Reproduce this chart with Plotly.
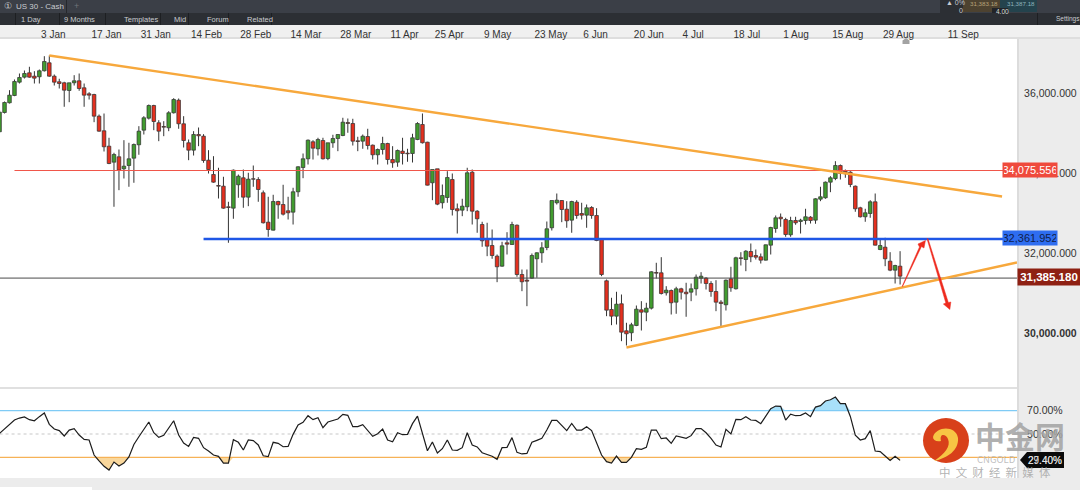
# US 30 daily candles with trend lines and RSI pane
import plotly.graph_objects as go

W, H = 1080, 490
FONT = "Liberation Sans"

# candle colour per bar, g = up, r = down
bar_colour = (
    "ggggggrrgg" "rrrrggrrrr" "rrrgrggggg" "grrrggrrrg" "rrrrrrrggr"
    "grrrrgrrrg" "gggrgrgggg" "rrrgrrggrr" "grrggrrgrg" "grrggrrrrr"
    "rgrgrrrggg" "gggrrgrrgr" "rrrrgrrggr" "ggrrgrgrrg" "ggrrrrgrgr"
    "grrrgggrrg" "rggrgggggr" "rrrrggrgrr" "gr"
)

highs = [
    35575, 35800, 36083, 36350, 36500, 36575, 36668, 36558, 36600, 36933,
    36950, 36475, 36368, 36293, 36268, 36458, 36500, 36250, 36033, 35993,
    35475, 35500, 34893, 34518, 34600, 34833, 34768, 34750, 35183, 35433,
    35725, 35718, 35333, 35308, 35558, 35883, 35875, 35433, 34850, 35058,
    35150, 34983, 34583, 34433, 34143, 33918, 33293, 34100, 33975, 34100,
    34018, 34200, 33908, 33575, 33418, 33468, 33318, 33718, 33418, 33643,
    34183, 34500, 34850, 34833, 34893, 34893, 34768, 34968, 34983, 35393,
    35375, 35368, 34918, 34975, 35118, 34725, 34625, 34918, 34768, 34683,
    34600, 34893, 34618, 34993, 35283, 35500, 34793, 34100, 34118, 33725,
    34058, 34000, 33250, 33368, 34143, 34100, 33083, 32793, 32768, 32600,
    31975, 32293, 32533, 32793, 32725, 31600, 31600, 32000, 32033, 32283,
    32800, 33325, 33500, 33333, 33308, 33318, 33333, 33268, 33225, 33183,
    33133, 32383, 31350, 30893, 31043, 30975, 30268, 30268, 30700, 30808,
    30768, 31558, 31768, 31908, 31183, 31100, 31168, 31143, 31268, 31250,
    31475, 31533, 31408, 31308, 31333, 30833, 31350, 31668, 31918, 32033,
    32083, 32250, 32100, 32000, 32225, 32668, 32950, 33000, 32893, 32918,
    32918, 32868, 33118, 32933, 33383, 33668, 33800, 33933, 34308, 34225,
    34100, 34058, 33700, 33168, 33118, 33333, 33500, 32350, 32393, 32033,
    31718, 32058,
]
body_tops = [
    35533, 35775, 35958, 36300, 36400, 36500, 36518, 36433, 36568, 36800,
    36768, 36433, 36293, 36268, 36268, 36318, 36318, 36143, 35993, 35975,
    35433, 35068, 34683, 34475, 34418, 34183, 34368, 34725, 35058, 35393,
    35700, 35700, 35268, 35175, 35518, 35850, 35833, 35243, 34768, 34975,
    34975, 34933, 34333, 33975, 33700, 33683, 33168, 34083, 33933, 33893,
    33858, 33868, 33850, 33518, 32783, 33300, 33300, 33225, 33068, 33543,
    34168, 34368, 34833, 34793, 34850, 34825, 34768, 34875, 34975, 35283,
    35275, 35250, 34818, 34933, 34925, 34708, 34600, 34750, 34750, 34350,
    34575, 34558, 34508, 34893, 35250, 35225, 34783, 34100, 34118, 33450,
    33900, 33850, 33118, 33183, 34018, 34033, 33058, 32725, 32350, 32200,
    31933, 32193, 32268, 32725, 32708, 31475, 31333, 31950, 32018, 32143,
    32618, 33325, 33333, 33325, 33108, 33300, 33283, 33000, 33143, 33150,
    32950, 32368, 31318, 30600, 30733, 30743, 30068, 30218, 30608, 30593,
    30633, 31543, 31525, 31518, 31083, 31075, 31118, 31118, 31033, 31118,
    31408, 31433, 31383, 31250, 31050, 30783, 31333, 31368, 31893, 31893,
    32058, 32050, 31950, 31918, 32218, 32650, 32893, 32908, 32850, 32825,
    32825, 32833, 32918, 32908, 33368, 33418, 33783, 33893, 34200, 34200,
    34058, 34033, 33683, 33143, 33018, 33293, 33293, 32200, 32158, 31808,
    31700, 31683,
]
body_bottoms = [
    35043, 35525, 35768, 35950, 36283, 36408, 36408, 36383, 36418, 36568,
    36433, 36283, 36250, 36083, 36075, 36268, 36125, 35958, 35958, 35433,
    35058, 34668, 34250, 34283, 34083, 34118, 34200, 34383, 34718, 35083,
    35383, 35300, 35058, 35158, 35143, 35518, 35243, 34825, 34583, 34583,
    34943, 34325, 34100, 33783, 33683, 33133, 33150, 33133, 33718, 33408,
    33408, 33858, 33600, 32768, 32600, 32583, 33218, 32983, 33018, 33033,
    33543, 34150, 34368, 34633, 34618, 34368, 34375, 34768, 34875, 34950,
    35250, 34808, 34800, 34808, 34700, 34468, 34468, 34600, 34350, 34268,
    34283, 34500, 34493, 34500, 34850, 34768, 33708, 33768, 33233, 33268,
    33400, 33100, 33068, 33083, 33168, 33058, 32868, 32318, 32183, 31950,
    31668, 31683, 32233, 32225, 31475, 31293, 31308, 31383, 31868, 32018,
    32150, 32643, 33268, 33100, 32818, 32833, 32950, 32958, 32958, 32950,
    32325, 31475, 30583, 30433, 30433, 30033, 29993, 30018, 30200, 30533,
    30533, 30633, 31508, 31000, 31018, 30768, 30783, 31033, 30993, 31033,
    31118, 31383, 31250, 31050, 30783, 30750, 30718, 31143, 31118, 31875,
    31850, 31918, 31908, 31833, 31833, 32208, 32625, 32868, 32475, 32468,
    32768, 32800, 32825, 32825, 32833, 33358, 33393, 33783, 33875, 34000,
    33993, 33725, 33118, 32918, 32918, 33000, 32208, 32100, 31868, 31583,
    31583, 31433,
]
lows = [
    35038, 35500, 35750, 35933, 36250, 36375, 36393, 36250, 36250, 36550,
    36418, 36200, 36125, 35668, 35783, 36200, 36068, 35668, 35850, 35283,
    35043, 34550, 34233, 33168, 33583, 33875, 33668, 33768, 34468, 34975,
    35350, 35083, 34808, 34933, 35058, 35500, 35118, 34650, 34333, 34450,
    34683, 34268, 34000, 33768, 33375, 33118, 32268, 32868, 33393, 33143,
    33183, 33668, 33293, 32750, 32418, 32575, 32868, 32950, 32850, 32725,
    33418, 33883, 34225, 34350, 34450, 34350, 34333, 34643, 34558, 34933,
    35018, 34700, 34558, 34618, 34600, 34350, 34225, 34475, 34225, 34143,
    34168, 34225, 34293, 34275, 34833, 34750, 33700, 33333, 33208, 33125,
    33268, 32950, 32500, 32933, 33058, 32725, 32518, 32168, 31933, 31868,
    31283, 31668, 31975, 32218, 31418, 31058, 30683, 31368, 31393, 31768,
    32083, 32575, 33225, 32783, 32643, 32518, 32868, 32850, 32643, 32868,
    32308, 31433, 30433, 30208, 30225, 29808, 29700, 29808, 30183, 30075,
    30308, 30600, 31375, 30975, 30950, 30475, 30493, 30850, 30418, 30808,
    30950, 31250, 31100, 30918, 30558, 30183, 30575, 31043, 31100, 31700,
    31558, 31783, 31850, 31750, 31825, 31975, 32518, 32668, 32418, 32418,
    32718, 32500, 32725, 32750, 32743, 33308, 33368, 33533, 33833, 33850,
    33893, 33658, 33043, 32900, 32793, 32893, 32200, 32083, 31683, 31558,
    31250, 31225,
]

rsi = [
    50.6, 54.3, 57.7, 62, 63.7, 64.6, 62.3, 61.4, 64.9, 68,
    58.3, 54.3, 52.9, 48.3, 53.4, 54.6, 49.1, 45.4, 44.9, 32,
    26.9, 22.3, 19.1, 26, 22.6, 25.1, 30.3, 41.1, 47.7, 54,
    60.3, 51.1, 47.1, 48.9, 55.4, 61.4, 49.1, 42.3, 39.4, 47.1,
    46.3, 38.3, 35.4, 32, 30.9, 25.1, 25.1, 45.1, 42.9, 36.3,
    44.9, 44.3, 40.6, 31.4, 30.6, 42.9, 42, 39.1, 39.4, 49.7,
    57.7, 60, 65.7, 62.3, 64, 55.4, 60.3, 61.4, 62.9, 66.9,
    66, 56.3, 56.3, 58, 52.9, 48, 50.3, 54.3, 44.9, 43.4,
    51.1, 49.4, 49.7, 58.9, 65.4, 50.6, 35.7, 43.1, 33.7, 37.4,
    44.9, 36.3, 36, 38.3, 51.1, 40.6, 38.9, 34, 32.6, 30.9,
    28.3, 38.3, 38.6, 46.9, 34.3, 32.9, 33.4, 42.9, 44.6,
    46.3, 53.4, 61.7, 61.7, 57.7, 52.9, 59.1, 53.4, 53.4, 56.3,
    52.9, 42, 32, 26.3, 25.1, 31.1, 25.7, 25.7, 30, 37.4,
    36.9, 38.6, 53.4, 53.4, 46, 46.6, 42, 48.3, 47.1, 46.3,
    48.6, 54.6, 54.6, 51.1, 46.3, 40.6, 38.9, 54, 50, 62.6,
    62.3, 64.9, 62, 61.7, 58.9, 65.7, 71.7, 74, 73.7, 62,
    67.1, 65.7, 66, 68, 64.9, 73.1, 74.3, 78.3, 79.4, 81.7,
    76, 76, 65.1, 49.1, 44.9, 46, 52.9, 35.4, 34.9, 31.1,
    27.4, 30.9, 27.4,
]

date_ticks = [10.8, 21.5, 31.4, 41.6, 51.5, 61.6, 71.6, 81.4, 90.4, 100.1,
              110.8, 119.8, 130.5, 139.4, 150.2, 160.1, 170.5, 180.7, 193.7]
date_labels = ["3 Jan", "17 Jan", "31 Jan", "14 Feb", "28 Feb", "14 Mar", "28 Mar",
               "11 Apr", "25 Apr", "9 May", "23 May", "6 Jun", "20 Jun", "4 Jul",
               "18 Jul", "1 Aug", "15 Aug", "29 Aug", "11 Sep"]
price_ticks = [30000, 32000, 34000, 36000]
price_labels = ["<b>30,000.000</b>", "32,000.000", "34,000.000", "36,000.000"]

# drawn trend lines and levels
fall_x, fall_y = [10, 201.5], [36950, 33425]
rise_x, rise_y = [126, 204.5], [29650, 31775]
res_x, res_y = [3, 204.5], [34075.556, 34075.556]
sup_x, sup_y = [41, 204.5], [32361.952, 32361.952]
last_x, last_y = [0, 204.5], [31385.18, 31385.18]
arrow_up_x = [181.4, 184.9, 184.6, 186.1, 185.8, 185.3, 181.5]
arrow_up_y = [31175, 32162, 32237, 32325, 32137, 32175, 31175]
arrow_down_x = [186.4, 190.2, 189.7, 191.0, 191.2, 190.7, 186.6]
arrow_down_y = [32375, 30762, 30737, 30600, 30787, 30775, 32375]

idx = list(range(len(rsi)))
bars = idx[:len(highs)]
body_sizes = [t - b for t, b in zip(body_tops, body_bottoms)]
body_fill = ["#419c2f" if c == "g" else "#e4301f" for c in bar_colour]

# wicks as broken segments, above and below each body
wick_x, wick_y = [], []
for i, hi, top, bot, lo in zip(bars, highs, body_tops, body_bottoms, lows):
    wick_x += [i, i, None, i, i, None]
    wick_y += [hi, top, None, bot, lo, None]


def px(x):
    return x / W


def py(y):
    return 1 - y / H


def box(x0, y0, x1, y1, color, layer="below"):
    return dict(type="rect", xref="paper", yref="paper", x0=px(x0), x1=px(x1),
                y0=py(y1), y1=py(y0), fillcolor=color, line_width=0, layer=layer)


def label(x, y, text, size=8, color="#c9ccd0", **kw):
    return dict(xref="paper", yref="paper", x=px(x), y=py(y), text=text, showarrow=False,
                font=dict(family=FONT, size=size, color=color), xanchor=kw.pop("xanchor", "left"),
                yanchor="middle", **kw)


fig = go.Figure()

fig.add_trace(go.Bar(x=bars, y=body_sizes, base=body_bottoms, width=0.72,
                     marker=dict(color=body_fill, line=dict(color="#2a2a2a", width=0.7)),
                     showlegend=False, hoverinfo="skip"))
fig.add_trace(go.Scatter(x=wick_x, y=wick_y, mode="lines", line=dict(color="#333333", width=1),
                         showlegend=False, hoverinfo="skip"))
for xs, ys, color, width in [
    (last_x, last_y, "#4a4a4a", 1),
    (res_x, res_y, "#f0564a", 1.2),
    (sup_x, sup_y, "#1f57e6", 2.4),
    (fall_x, fall_y, "#f7a83c", 2.4),
    (rise_x, rise_y, "#f7a83c", 2.4),
]:
    fig.add_trace(go.Scatter(x=xs, y=ys, mode="lines", line=dict(color=color, width=width),
                             showlegend=False, hoverinfo="skip"))
for xs, ys in [(arrow_up_x, arrow_up_y), (arrow_down_x, arrow_down_y)]:
    fig.add_trace(go.Scatter(x=xs, y=ys, mode="lines", fill="toself", fillcolor="#ee2a1e",
                             line=dict(color="#ee2a1e", width=0.5), showlegend=False, hoverinfo="skip"))

# rsi pane: filled parts first, then levels and the line
x_full = [0, 204.5]
for level, clip, color in [(70, max, "#a8e0fa"), (30, min, "#f9d79c")]:
    fig.add_trace(go.Scatter(x=idx, y=[level] * len(idx), mode="lines", line_width=0,
                             xaxis="x2", yaxis="y2", showlegend=False, hoverinfo="skip"))
    fig.add_trace(go.Scatter(x=idx, y=[clip(v, level) for v in rsi], mode="lines", line_width=0,
                             fill="tonexty", fillcolor=color,
                             xaxis="x2", yaxis="y2", showlegend=False, hoverinfo="skip"))
for level, color, dash in [(70, "#7fcbf5", "solid"), (50, "#c8c8c8", "dot"), (30, "#f6b257", "solid")]:
    fig.add_trace(go.Scatter(x=x_full, y=[level, level], mode="lines",
                             line=dict(color=color, width=1.2, dash=dash),
                             xaxis="x2", yaxis="y2", showlegend=False, hoverinfo="skip"))
fig.add_trace(go.Scatter(x=idx, y=rsi, mode="lines", line=dict(color="#1c1c1c", width=1.2),
                         xaxis="x2", yaxis="y2", showlegend=False, hoverinfo="skip"))

x_range = [0.09, 204.5]
fig.update_layout(
    width=W, height=H, margin=dict(l=0, r=0, t=0, b=0),
    paper_bgcolor="#ececec", plot_bgcolor="#ffffff",
    font=dict(family=FONT, color="#333333"),
    xaxis=dict(domain=[0, px(1017)], range=x_range, side="top", anchor="y",
               tickvals=date_ticks, ticktext=date_labels, tickfont=dict(size=10, color="#333333"),
               ticks="", ticklabelstandoff=-2, showgrid=False, zeroline=False, showline=False),
    yaxis=dict(domain=[py(387), py(39)], range=[28662.5, 37362.5], side="right", anchor="x",
               tickvals=price_ticks, ticktext=price_labels, tickfont=dict(size=10.5, color="#333333"),
               ticks="outside", ticklen=4, tickcolor="rgba(0,0,0,0)", showgrid=False, zeroline=False),
    xaxis2=dict(domain=[0, px(1017)], range=x_range, anchor="y2", showticklabels=False,
                ticks="", showgrid=False, zeroline=False),
    yaxis2=dict(domain=[py(478), py(389)], range=[12.3, 88.6], side="right", anchor="x2",
                tickvals=[70, 50], ticktext=["70.00%", "50.00%"], tickfont=dict(size=10.5, color="#333333"),
                ticks="outside", ticklen=7, tickcolor="rgba(0,0,0,0)", showgrid=False, zeroline=False),
)

shapes = [
    box(0, 0, W, 13, "#3b3f47"),
    box(0, 13, W, 25, "#2c2f34"),
    box(0, 25, W, 37, "#f0f0f0"),
    box(0, 37, W, 39, "#dedede"),
    box(1017, 39, 1019, 478, "#dcdcdc"),
    box(0, 387, 1017, 389, "#e0e0e0"),
    box(0, 487, 92, 490, "#ffffff"),
    box(66, 0, 67, 13, "#26282c"),
    box(15, 13, 16, 25, "#1d1f22"),
    box(59, 13, 60, 25, "#1d1f22"),
    box(105, 13, 106, 25, "#1d1f22"),
    box(160, 13, 161, 25, "#1d1f22"),
    box(188, 13, 189, 25, "#1d1f22"),
    box(228, 13, 229, 25, "#1d1f22"),
    box(271, 13, 272, 25, "#1d1f22"),
    box(940, 0, 963, 13, "#2c2f34"),
    box(963, 0, 1000, 12, "#4d4230"),
    box(1000, 0, 1037, 12, "#24434d"),
    box(992, 8, 1008, 13, "#222428"),
    box(1037, 13, 1038, 25, "#1d1f22"),
    # small marker below the date strip
    dict(type="path", xref="paper", yref="paper", layer="above", fillcolor="#a3a3a3", line_width=0,
         path=f"M {px(902.5)} {py(44)} L {px(902.5)} {py(40.5)} L {px(906)} {py(38)} "
              f"L {px(909.5)} {py(40.5)} L {px(909.5)} {py(44)} Z"),
    # rsi tag with its pointed left end
    dict(type="path", xref="paper", yref="paper", layer="above", fillcolor="#0a0a0a", line_width=0,
         path=f"M {px(1020)} {py(460)} L {px(1027)} {py(452)} L {px(1064)} {py(452)} "
              f"L {px(1064)} {py(468)} L {px(1027)} {py(468)} Z"),
    # watermark logo
    dict(type="circle", xref="paper", yref="paper", layer="above", x0=px(923), x1=px(969),
         y0=py(463), y1=py(418), fillcolor="#d8401a", line_width=0),
    dict(type="path", xref="paper", yref="paper", layer="above", fillcolor="#f7c544", line_width=0,
         path=f"M {px(933)} {py(437)} C {px(936)} {py(426)} {px(956)} {py(425)} {px(958)} {py(438)} "
              f"C {px(959)} {py(450)} {px(948)} {py(458)} {px(934)} {py(461)} "
              f"C {px(945)} {py(454)} {px(951)} {py(446)} {px(948)} {py(439)} "
              f"C {px(946)} {py(434)} {px(939)} {py(433)} {px(941)} {py(441)} "
              f"C {px(936)} {py(442)} {px(933)} {py(440)} {px(933)} {py(437)} Z"),
]

annotations = [
    label(2, 6, "①", 9),
    label(14, 6, "US 30 - Cash", 8),
    label(72, 6, "+", 9, "#70747a"),
    label(19, 19, "1 Day", 7.5),
    label(62, 19, "9 Months", 7.5),
    label(122, 19, "Templates", 7.5),
    label(172, 19, "Mid", 7.5),
    label(205, 19, "Forum", 7.5),
    label(245, 19, "Related", 7.5),
    label(1054, 19, "Settings", 6.5),
    label(944, 3, "▲ 0%", 7),
    label(957, 10, "0", 7),
    label(968, 4, "31,383.18", 6.2, "#b8a27a"),
    label(1005, 4, "31,387.18", 6.2, "#8fb3bd"),
    label(994, 11, "4.00", 6.5, "#dddddd"),
    # level tags
    label(1030, 170, "34,075.556", 11, "#ffffff", xanchor="center", bgcolor="#ef4a3c", borderpad=1, width=52, height=12),
    label(1030, 238, "32,361.952", 11, "#10204a", xanchor="center", bgcolor="#2e6df0", borderpad=1, width=52, height=12),
    label(1049, 276.5, "<b>31,385.180</b>", 11.5, "#ffffff", xanchor="center", bgcolor="#8e2013", borderpad=1, width=60, height=14),
    # rsi tag, printed twice in the source
    label(1045, 460, "29.40%", 10, "#e0e0e0", xanchor="center"),
    label(1045, 460, "27.40%", 10, "rgba(230,230,230,0.8)", xanchor="center"),
    # watermark
    label(1020, 435, "<b>中金网</b>", 30, "rgba(165,165,165,0.9)", xanchor="center"),
    label(975, 459, "CNGOLD", 9.5, "rgba(185,185,185,0.9)"),
    label(995, 472, "中  文  财  经  新  媒  体", 11.5, "rgba(170,170,170,0.9)", xanchor="center"),
]
for a in annotations[-3:]:
    a["font"]["family"] = "Noto Sans CJK SC"

fig.update_layout(shapes=shapes, annotations=annotations)

fig.write_html("out.html", post_script="document.body.style.margin='0';",
               config=dict(displayModeBar=False))
